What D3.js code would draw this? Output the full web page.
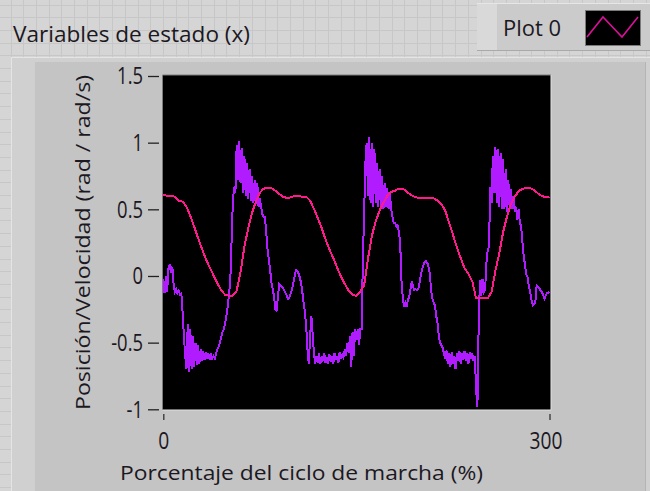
<!DOCTYPE html>
<html>
<head>
<meta charset="utf-8">
<script src="https://cdn.jsdelivr.net/npm/d3@7"></script>
<style>
  html, body { margin: 0; padding: 0; background: #d5d5d5; overflow: hidden; }
  text { font-family: "Open Sans", "Noto Sans", sans-serif; fill: #1c1822; }
</style>
</head>
<body>
<svg id="chart" width="650" height="491"></svg>
<script>
// ---- data ----------------------------------------------------------------
const chartTitle = "Variables de estado (x)";
const legendLabel = "Plot 0";
const xTitle = "Porcentaje del ciclo de marcha (%)";
const yTitle = "Posición/Velocidad (rad / rad/s)";
const xDomain = [0, 300];
const yDomain = [-1, 1.5];
const xTicks = [0, 300];
const yTicks = [1.5, 1, 0.5, 0, -0.5, -1];

// joint position, one sample every 3 % of the cycle
const positionStep = 3;
const position = [
  0.61, 0.60, 0.60, 0.595, 0.565, 0.558, 0.52, 0.45, 0.37, 0.285,
  0.205, 0.13, 0.065, 0.005, -0.055, -0.108, -0.14, -0.148, -0.148, -0.11,
  0.03, 0.22, 0.36, 0.475, 0.56, 0.625, 0.655, 0.66, 0.658, 0.64,
  0.615, 0.595, 0.585, 0.59, 0.60, 0.598, 0.595, 0.595, 0.565, 0.505,
  0.435, 0.36, 0.275, 0.20, 0.135, 0.065, -0.005, -0.06, -0.11, -0.14,
  -0.15, -0.115, -0.07, 0.13, 0.30, 0.41, 0.49, 0.55, 0.60, 0.63,
  0.64, 0.655, 0.655, 0.633, 0.61, 0.595, 0.585, 0.583, 0.583, 0.583,
  0.583, 0.565, 0.54, 0.49, 0.40, 0.31, 0.215, 0.135, 0.06, 0.015,
  -0.04, -0.168, -0.168, -0.168, -0.168, -0.12, 0.04, 0.17, 0.33, 0.445,
  0.54, 0.595, 0.635, 0.655, 0.658, 0.658, 0.645, 0.62, 0.60, 0.592,
  0.588
];

// joint velocity, one sample every 1 % of the cycle
const velocityStep = 1;
const velocity = [
  -0.02, -0.13, 0.0, -0.12, 0.06, 0.09, 0.02, 0.07, -0.06, -0.12,
  -0.10, -0.13, -0.11, -0.14, -0.13, -0.27, -0.45, -0.60, -0.70, -0.36,
  -0.72, -0.40, -0.70, -0.45, -0.68, -0.50, -0.67, -0.52, -0.66, -0.55,
  -0.64, -0.56, -0.63, -0.57, -0.62, -0.58, -0.63, -0.58, -0.62, -0.60,
  -0.62, -0.58, -0.55, -0.53, -0.50, -0.46, -0.42, -0.40, -0.36, -0.30,
  -0.23, -0.14, -0.05, 0.25, 0.55, 0.67, 0.62, 0.98, 0.72, 1.01,
  0.70, 0.96, 0.62, 0.90, 0.60, 0.85, 0.58, 0.80, 0.56, 0.75,
  0.55, 0.72, 0.54, 0.70, 0.52, 0.58, 0.52, 0.46, 0.445, 0.44,
  0.32, 0.20, 0.12, 0.045, -0.05, -0.10, -0.15, -0.25, -0.26, -0.16,
  -0.06, -0.07, -0.08, -0.09, -0.11, -0.13, -0.15, -0.17, -0.16, -0.13,
  -0.10, -0.05, -0.005, 0.045, 0.04, 0.02, -0.01, -0.05, -0.12, -0.20,
  -0.27, -0.38, -0.55, -0.66, -0.46, -0.30, -0.43, -0.58, -0.66, -0.60,
  -0.65, -0.58, -0.66, -0.60, -0.64, -0.58, -0.65, -0.61, -0.66, -0.59,
  -0.64, -0.60, -0.66, -0.58, -0.63, -0.60, -0.65, -0.57, -0.62, -0.59,
  -0.61, -0.55, -0.60, -0.50, -0.58, -0.45, -0.68, -0.42, -0.60, -0.40,
  -0.48, -0.40, -0.52, -0.40, -0.40, 0.10, 0.47, 0.85, 1.00, 0.60,
  1.045, 0.55, 1.00, 0.52, 0.95, 0.55, 0.85, 0.52, 0.80, 0.50,
  0.75, 0.50, 0.70, 0.52, 0.66, 0.50, 0.62, 0.50, 0.445, 0.40,
  0.40, 0.37, 0.38, 0.33, 0.25, -0.03, -0.16, -0.23, -0.20, -0.23,
  -0.18, -0.155, -0.10, -0.04, -0.08, -0.105, -0.10, -0.105, -0.10, -0.055,
  0.0, 0.05, 0.08, 0.105, 0.11, 0.10, 0.07, 0.02, -0.10, -0.17,
  -0.20, -0.22, -0.30, -0.35, -0.45, -0.50, -0.52, -0.54, -0.58, -0.62,
  -0.56, -0.66, -0.58, -0.68, -0.57, -0.66, -0.60, -0.70, -0.58, -0.64,
  -0.56, -0.66, -0.58, -0.63, -0.56, -0.64, -0.58, -0.66, -0.57, -0.62,
  -0.58, -0.64, -0.60, -0.85, -0.98, -0.35, -0.03, -0.15, -0.02, -0.12,
  -0.10, 0.095, 0.195, 0.22, 0.67, 0.55, 0.90, 0.62, 0.97, 0.55,
  0.95, 0.52, 0.92, 0.50, 0.88, 0.50, 0.80, 0.48, 0.72, 0.52,
  0.65, 0.50, 0.60, 0.48, 0.52, 0.42, 0.50, 0.40, 0.37, 0.25,
  0.15, 0.08, 0.01, -0.01, -0.08, -0.12, -0.18, -0.22, -0.21, -0.20,
  -0.07, -0.08, -0.09, -0.11, -0.12, -0.14, -0.17, -0.15, -0.13, -0.125,
  -0.12
];

// ---- layout ----------------------------------------------------------------
const W = 650, H = 491;
const plot = { left: 162.5, top: 75, right: 551, bottom: 410 };
const positionColor = "#ff1a8c";
const velocityColor = "#b01cff";

const svg = d3.select("#chart");

// front-panel grid behind the graph
const bg = svg.append("g");
bg.append("rect").attr("width", W).attr("height", H).attr("fill", "#d5d5d5");
const gridStep = 12.7;
bg.selectAll("line.gv").data(d3.range(10.6, W, gridStep)).join("line")
  .attr("x1", d => Math.round(d) + 0.5).attr("x2", d => Math.round(d) + 0.5)
  .attr("y1", 0).attr("y2", H).attr("stroke", "#c7c7c7");
bg.selectAll("line.gh").data(d3.range(4.5, H, gridStep)).join("line")
  .attr("y1", d => Math.round(d) + 0.5).attr("y2", d => Math.round(d) + 0.5)
  .attr("x1", 0).attr("x2", W).attr("stroke", "#c7c7c7");

// graph frame
const frame = svg.append("g");
frame.append("rect").attr("x", 11).attr("y", 57).attr("width", W - 11).attr("height", H - 57)
  .attr("fill", "#d0d0d0");
frame.append("line").attr("x1", 11).attr("x2", W).attr("y1", 57.5).attr("y2", 57.5).attr("stroke", "#e4e4e4");
frame.append("line").attr("x1", 11.5).attr("x2", 11.5).attr("y1", 57).attr("y2", H).attr("stroke", "#e4e4e4");
frame.append("rect").attr("x", 35).attr("y", 62).attr("width", 610).attr("height", H - 62)
  .attr("fill", "#c4c4c4");
frame.append("line").attr("x1", 645.5).attr("x2", 645.5).attr("y1", 62).attr("y2", H).attr("stroke", "#b4b4b4");

// title
svg.append("text").attr("class", "fit").attr("data-w", 237)
  .attr("x", 13).attr("y", 42).attr("font-size", 22).text(chartTitle);

// legend
const leg = svg.append("g");
leg.append("rect").attr("x", 477).attr("y", 3).attr("width", 173).attr("height", 48).attr("fill", "#cbcbcb");
leg.append("rect").attr("x", 477).attr("y", 3).attr("width", 20).attr("height", 48).attr("fill", "#d9d9d9");
leg.append("line").attr("x1", 477).attr("x2", W).attr("y1", 3.5).attr("y2", 3.5).attr("stroke", "#e6e6e6");
leg.append("line").attr("x1", 477).attr("x2", W).attr("y1", 50.5).attr("y2", 50.5).attr("stroke", "#a9a9a9");
leg.append("text").attr("class", "fit").attr("data-w", 58)
  .attr("x", 503).attr("y", 36).attr("font-size", 21).text(legendLabel);
leg.append("rect").attr("x", 585.5).attr("y", 10.5).attr("width", 55).attr("height", 35)
  .attr("fill", "#000").attr("stroke", "#7a7a7a");
leg.append("path").attr("d", "M587,37L603,17L622,37L638,17")
  .attr("fill", "none").attr("stroke", "#dc109a").attr("stroke-width", 1.6);

// scales
const x = d3.scaleLinear().domain(xDomain).range([163.3, 549.5]);
const y = d3.scaleLinear().domain(yDomain).range([409.3, 76]);

// plot area
svg.append("rect").attr("x", plot.left).attr("y", plot.top)
  .attr("width", plot.right - plot.left).attr("height", plot.bottom - plot.top).attr("fill", "#000");
svg.append("path").attr("d", `M${plot.left},${plot.bottom}V${plot.top}H${plot.right}`)
  .attr("fill", "none").attr("stroke", "#7c7c7c");
svg.append("path").attr("d", `M${plot.right},${plot.top}V${plot.bottom}H${plot.left}`)
  .attr("fill", "none").attr("stroke", "#e2e2e2");

svg.append("clipPath").attr("id", "clip").append("rect")
  .attr("x", plot.left + 0.5).attr("y", plot.top + 0.5)
  .attr("width", plot.right - plot.left - 1).attr("height", plot.bottom - plot.top - 1);

// traces drawn without anti-aliasing, like the instrument display
const series = svg.append("g").attr("clip-path", "url(#clip)")
  .attr("shape-rendering", "crispEdges");
const velLine = d3.line().x((d, i) => x(i * velocityStep)).y(d => y(d));
const posLine = d3.line().x((d, i) => x(i * positionStep)).y(d => y(d));
series.append("path").datum(velocity).attr("d", velLine)
  .attr("fill", "none").attr("stroke", velocityColor).attr("stroke-width", 2)
  .attr("stroke-linejoin", "miter");
series.append("path").datum(position).attr("d", posLine)
  .attr("fill", "none").attr("stroke", positionColor).attr("stroke-width", 2);

// axes
const yAxis = svg.append("g").attr("transform", "translate(159,0)")
  .call(d3.axisLeft(y).tickValues(yTicks).tickFormat(d => String(d)).tickSize(12).tickPadding(4));
yAxis.select(".domain").remove();
yAxis.selectAll(".tick line").attr("stroke", "#222").attr("stroke-width", 1.3).attr("x2", -11);
yAxis.selectAll(".tick text").attr("class", "squeeze").attr("font-size", 23)
  .attr("font-family", null).attr("fill", null).attr("dy", "0.34em");

const xAxis = svg.append("g").attr("transform", `translate(0,${plot.bottom + 2})`)
  .call(d3.axisBottom(x).tickValues(xTicks).tickFormat(d => String(d)).tickSize(8).tickPadding(12));
xAxis.select(".domain").remove();
xAxis.selectAll(".tick line").attr("stroke", "#333").attr("stroke-width", 1.3).attr("y1", 2);
xAxis.selectAll(".tick text").attr("class", "squeeze").attr("font-size", 24)
  .attr("font-family", null).attr("fill", null)
  .attr("dx", d => d === xDomain[1] ? -4 : 0);

// axis titles
svg.append("text").attr("class", "fit").attr("data-w", 363)
  .attr("x", 120).attr("y", 480).attr("font-size", 20).text(xTitle);
svg.append("text").attr("class", "fit").attr("data-w", 335)
  .attr("transform", "translate(90,410) rotate(-90)").attr("font-size", 20).text(yTitle);

// narrow text rendering
svg.selectAll("text.fit").each(function () {
  const t = d3.select(this);
  t.attr("textLength", t.attr("data-w")).attr("lengthAdjust", "spacingAndGlyphs");
});
svg.selectAll("text.squeeze").each(function () {
  const w = this.getComputedTextLength();
  d3.select(this).attr("textLength", (w * 0.8).toFixed(1)).attr("lengthAdjust", "spacingAndGlyphs");
});
</script>
</body>
</html>
